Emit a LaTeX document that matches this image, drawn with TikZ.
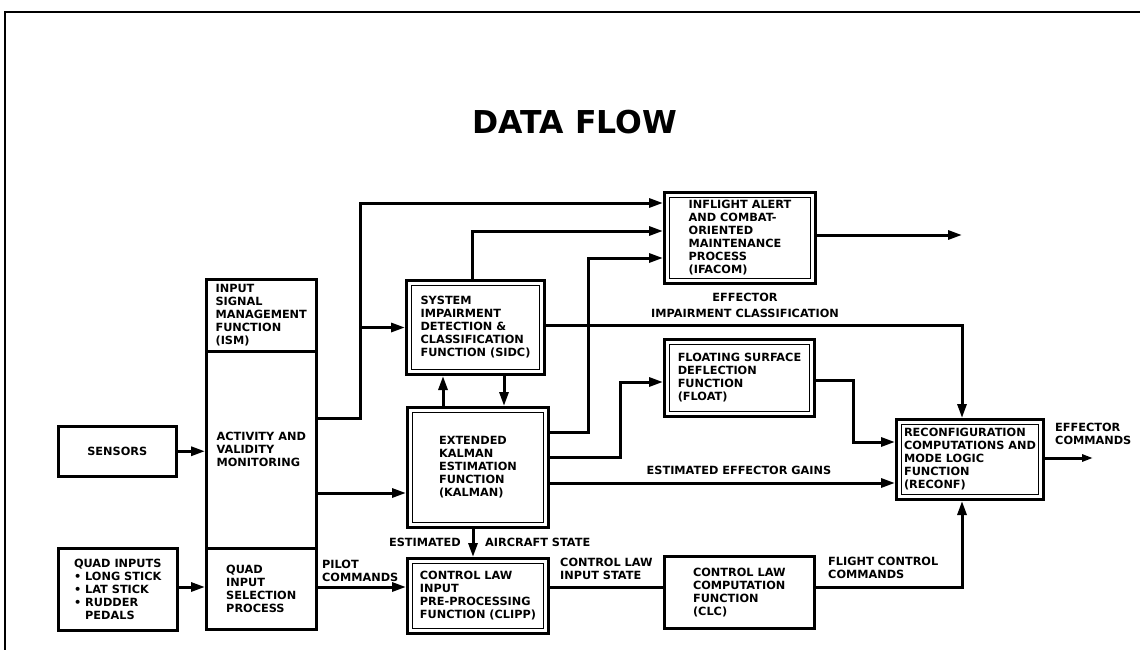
\documentclass[tikz,border=0pt]{standalone}
\usepackage{fontspec}
\setmainfont{DejaVu Sans}
\usetikzlibrary{arrows.meta}
\begin{document}
\begin{tikzpicture}[x=1pt,y=-1pt,
  every node/.style={font=\bfseries\fontsize{11.3}{13}\selectfont},
  sbox/.style={draw, line width=2.5pt, align=left, inner sep=0pt, anchor=north west},
  dbox/.style={draw, line width=3pt, align=left, inner sep=0pt, anchor=north west,
    path picture={\draw[line width=1.6pt]
      ([shift={(5pt,-5pt)}]path picture bounding box.north west) rectangle
      ([shift={(-5pt,5pt)}]path picture bounding box.south east);}},
  wire/.style={line width=3pt},
  arr/.style={wire, -{Triangle[length=14pt,width=9pt]}},
  lbl/.style={align=left, inner sep=0pt, anchor=west},
]
\useasboundingbox (0,0) rectangle (1140,650);
% frame
\draw[line width=2.4pt] (5,650) -- (5,12) -- (1140,12);
% title
\node[font=\bfseries\fontsize{31.5}{36}\selectfont] (title) at (575,122) {DATA FLOW};

% boxes
\node[sbox, minimum width=118pt, minimum height=50pt] (sensors) at (57,425) {SENSORS};
\node[sbox, minimum width=119pt, minimum height=82pt] (quad) at (57,547)
  {QUAD INPUTS\\\textbullet\ LONG STICK\\\textbullet\ LAT STICK\\\textbullet\ RUDDER\\\hphantom{\textbullet\ }PEDALS};
\node[sbox, minimum width=110pt, minimum height=72pt] (ismtop) at (205,278)
  {INPUT\\SIGNAL\\MANAGEMENT\\FUNCTION\\(ISM)};
\node[sbox, minimum width=110pt, minimum height=197pt] (ismmid) at (205,350)
  {ACTIVITY AND\\VALIDITY\\MONITORING};
\node[sbox, minimum width=110pt, minimum height=81pt] (ismbot) at (205,547)
  {QUAD\\INPUT\\SELECTION\\PROCESS};
\node[dbox, minimum width=138pt, minimum height=94pt] (sidc) at (405,279)
  {SYSTEM\\IMPAIRMENT\\DETECTION \&\\CLASSIFICATION\\FUNCTION (SIDC)};
\node[dbox, minimum width=141pt, minimum height=120pt] (kalman) at (406,406)
  {EXTENDED\\KALMAN\\ESTIMATION\\FUNCTION\\(KALMAN)};
\node[dbox, minimum width=141pt, minimum height=75pt] (clipp) at (406,557)
  {CONTROL LAW\\INPUT\\PRE-PROCESSING\\FUNCTION (CLIPP)};
\node[dbox, minimum width=151pt, minimum height=91pt] (ifacom) at (663,191)
  {INFLIGHT ALERT\\AND COMBAT-\\ORIENTED\\MAINTENANCE\\PROCESS\\(IFACOM)};
\node[dbox, minimum width=150pt, minimum height=77pt] (float) at (663,338)
  {FLOATING SURFACE\\DEFLECTION\\FUNCTION\\(FLOAT)};
\node[sbox, minimum width=150pt, minimum height=72pt] (clc) at (663,555)
  {CONTROL LAW\\COMPUTATION\\FUNCTION\\(CLC)};
\node[dbox, minimum width=147pt, minimum height=80pt] (reconf) at (895,418)
  {RECONFIGURATION\\COMPUTATIONS AND\\MODE LOGIC\\FUNCTION\\(RECONF)};

% labels
\node[lbl] (lpilot) at (322,571) {PILOT\\COMMANDS};
\node[lbl, anchor=east] (lest) at (461,542) {ESTIMATED};
\node[lbl] (lacs) at (485,542) {AIRCRAFT STATE};
\node[lbl] (lclis) at (560,569) {CONTROL LAW\\INPUT STATE};
\node[lbl] (lfcc) at (828,568) {FLIGHT CONTROL\\COMMANDS};
\node[lbl] (leffc) at (1055,434) {EFFECTOR\\COMMANDS};
\node[align=center, inner sep=0pt, font=\bfseries\fontsize{11.3}{16}\selectfont] (leic) at (745,305) {EFFECTOR\\IMPAIRMENT CLASSIFICATION};
\node[inner sep=0pt] (lgains) at (739,470) {ESTIMATED EFFECTOR GAINS};

% coordinates
\coordinate (jA) at (360,418);
\coordinate (jA2) at (360,203);
\coordinate (yK) at (0,493);
\coordinate (yP) at (0,587);
\coordinate (jE) at (472,231);
\coordinate (jF) at (588,432);
\coordinate (jF2) at (588,258);
\coordinate (jG) at (620,457);
\coordinate (jG2) at (620,382);
\coordinate (yH) at (0,483);
\coordinate (jI) at (962,325);
\coordinate (jJ) at (853,380);
\coordinate (jJ2) at (853,442);
\coordinate (eout) at (1093,458);
\coordinate (iout) at (962,235);
\coordinate (xU) at (443,0);
\coordinate (xD) at (504,0);
\coordinate (xN) at (473,0);
\coordinate (jP) at (962,587);

% connectors
\draw[arr] (sensors.east) -- (sensors.east -| ismmid.west);
\draw[arr] (quad.east |- yP) -- (ismbot.west |- yP);
\draw[arr] (ismmid.east |- jA) -- (jA) -- (jA2) -- (ifacom.west |- jA2);
\draw[arr] (jA |- sidc.west) -- (sidc.west);
\draw[arr] (ismmid.east |- yK) -- (kalman.west |- yK);
\draw[arr] (ismbot.east |- yP) -- (clipp.west |- yP);
\draw[arr] (sidc.north -| jE) -- (jE) -- (ifacom.west |- jE);
\draw[arr] (kalman.east |- jF) -- (jF) -- (jF2) -- (ifacom.west |- jF2);
\draw[arr] (kalman.east |- jG) -- (jG) -- (jG2) -- (float.west |- jG2);
\draw[arr] (kalman.east |- yH) -- (reconf.west |- yH);
\draw[arr] (sidc.east |- jI) -- (jI) -- (reconf.north -| jI);
\draw[arr] (float.east |- jJ) -- (jJ) -- (jJ2) -- (reconf.west |- jJ2);
\draw[wire, -{Triangle[length=11pt,width=7pt]}] (reconf.east |- eout) -- (eout);
\draw[arr] (ifacom.east |- iout) -- (iout);
\draw[arr] (kalman.north -| xU) -- (sidc.south -| xU);
\draw[arr] (sidc.south -| xD) -- (kalman.north -| xD);
\draw[arr] (kalman.south -| xN) -- (clipp.north -| xN);
\draw[wire] (clipp.east |- yP) -- (clc.west |- yP);
\draw[arr] (clc.east |- jP) -- (jP) -- (reconf.south -| jP);
\end{tikzpicture}
\end{document}
